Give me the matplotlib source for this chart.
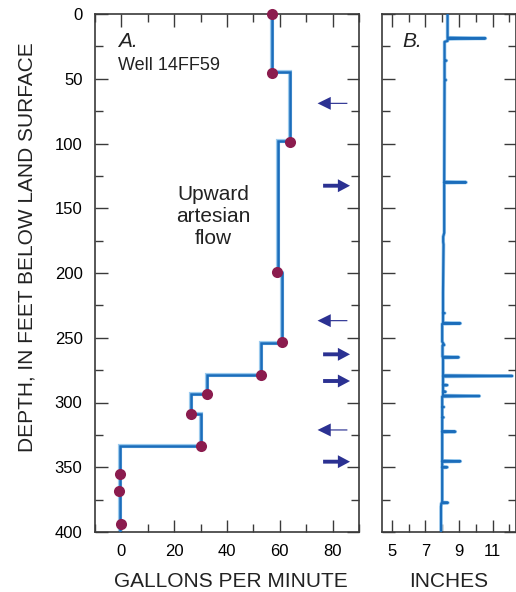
import matplotlib
matplotlib.use("Agg")
import matplotlib.pyplot as plt
from matplotlib.ticker import MultipleLocator

plt.rcParams['font.family'] = ['Liberation Sans', 'DejaVu Sans']

# ---- Panel A data: flow profile (gallons per minute vs depth) ----
# each flow value applies between consecutive boundary depths
step_depth = [0, 45, 98, 200, 254, 278.5, 293.7, 308.6, 333.8, 400]
step_flow = [57, 64, 59.4, 61, 53, 32.6, 26.4, 30, -0.4]
meas_depth = [0, 45.3, 98.6, 199.5, 253.5, 278.5, 293.7, 308.8, 333.3, 355.5, 368.3, 393.6]
meas_flow = [57, 57, 64, 59, 61, 53, 32.6, 26.4, 30, -0.5, -1, 0]

# inflow (left-pointing) / outflow (right-pointing) arrows: depth, direction, heavy tail
arrow_depth = [69, 132.6, 236.8, 262.8, 283.4, 321.2, 345.7]
arrow_dir = ['left', 'right', 'left', 'right', 'right', 'left', 'right']
arrow_heavy = [False, True, False, True, True, False, True]

# ---- Panel B data: caliper log (inches vs depth) ----
cal_depth = [0, 18.3, 18.8, 19.3, 20.8, 21.5, 35.5, 36.0, 36.5, 50.5, 51.0, 51.5,
             129.6, 130.0, 130.4, 169, 172, 176, 178, 215, 230.6, 231, 231.4,
             238.5, 238.9, 239.3, 253, 255.6, 256, 264.7, 265.1, 265.5,
             279.1, 279.5, 279.9, 286.2, 286.6, 287, 291.3, 291.7, 292,
             294.6, 295.0, 295.4, 303, 303.5, 304, 311, 311.5, 312,
             322.1, 322.5, 322.9, 345.0, 345.4, 345.8, 349.6, 350, 350.4,
             377.0, 377.4, 377.8, 380.4, 400]
cal_in = [8.32, 8.32, 10.57, 8.32, 8.32, 8.14, 8.14, 8.25, 8.14, 8.14, 8.22, 8.14,
          8.12, 9.42, 8.12, 8.12, 8.06, 8.06, 8.08, 8.05, 8.05, 8.15, 8.05,
          8.05, 9.08, 8.0, 8.0, 8.12, 8.02, 8.02, 8.98, 8.05,
          8.05, 12.16, 8.05, 8.05, 8.30, 8.05, 8.05, 8.20, 8.05,
          8.05, 10.21, 8.0, 8.0, 8.10, 8.0, 8.0, 8.08, 8.0,
          8.0, 8.78, 8.0, 8.0, 9.08, 8.0, 8.0, 8.30, 8.0,
          8.0, 8.34, 7.95, 7.93, 7.93]

LINE = '#1b6dbb'
HALO = '#9ccbee'
DOT = '#8b1c4e'
ARROW = '#2b3192'
SPINE = '#3a3a3a'

fig = plt.figure(figsize=(5.16, 5.92), dpi=100)
axA = fig.add_axes([95/516, 60/592, 264/516, 518/592])
axB = fig.add_axes([382/516, 60/592, 134/516, 518/592])

def style(ax):
    for s in ax.spines.values():
        s.set_color(SPINE)
        s.set_linewidth(1.2)
    ax.tick_params(which='both', direction='in', top=True, right=True,
                   color=SPINE, labelsize=12, pad=9)
    ax.tick_params(which='major', length=9, width=1.0)
    ax.tick_params(which='minor', length=5.5, width=1.0)
    ax.set_ylim(400, 0)
    ax.yaxis.set_major_locator(MultipleLocator(50))
    ax.yaxis.set_minor_locator(MultipleLocator(25))

# Panel A
style(axA)
axA.set_xlim(-10, 90)
axA.xaxis.set_major_locator(MultipleLocator(20))
axA.xaxis.set_minor_locator(MultipleLocator(10))

# build vertical step path: each flow value spans its depth interval
sx, sy = [], []
for i, f in enumerate(step_flow):
    sx += [f, f]
    sy += [step_depth[i], step_depth[i + 1]]
axA.plot(sx, sy, color=HALO, lw=3.0, solid_joinstyle='miter', zorder=2)
axA.plot(sx, sy, color=LINE, lw=1.8, solid_joinstyle='miter', zorder=3)
axA.plot(meas_flow, meas_depth, 'o', color=DOT, ms=8, mec='none', zorder=4, clip_on=False)

for d, direc, heavy in zip(arrow_depth, arrow_dir, arrow_heavy):
    if direc == 'left':
        x0, dx = 85.6, -11.3
    else:
        x0, dx = 76.4, 10.2
    tail_w = 3.0 if heavy else 0.9
    axA.arrow(x0, d, dx, 0, width=tail_w, head_width=10.0, head_length=5.0 if direc == 'left' else 4.6,
              length_includes_head=True, color=ARROW, lw=0, zorder=3)

axA.text(-1.1, 21.4, 'A.', fontsize=15, style='italic', ha='left', va='center', color='#222222')
axA.text(-1.1, 39.4, 'Well 14FF59', fontsize=13, ha='left', va='center', color='#222222')
axA.text(35, 156.5, 'Upward\nartesian\nflow', fontsize=15, ha='center', va='center',
         linespacing=1.2, color='#222222')

# Panel B
style(axB)
axB.set_xlim(4.42, 12.39)
axB.set_xticks([5, 7, 9, 11])
axB.set_xticks([6, 8, 10, 12], minor=True)
axB.set_yticklabels([])
axB.plot(cal_in, cal_depth, color=HALO, lw=2.6, solid_joinstyle='round',
         solid_capstyle='round', zorder=2)
axB.plot(cal_in, cal_depth, color=LINE, lw=1.6, solid_joinstyle='round', zorder=3)
axB.text(5.66, 21.4, 'B.', fontsize=15, style='italic', ha='left', va='center', color='#222222')

fig.text(27/516, 1 - 247.5/592, 'DEPTH, IN FEET BELOW LAND SURFACE', rotation=90,
         ha='center', va='center', fontsize=15, color='#222222')
fig.text(231/516, 1 - 581.5/592, 'GALLONS PER MINUTE', ha='center', va='center',
         fontsize=15, color='#222222')
fig.text(449/516, 1 - 581.5/592, 'INCHES', ha='center', va='center',
         fontsize=15, color='#222222')

fig.savefig('out.png', dpi=100)
